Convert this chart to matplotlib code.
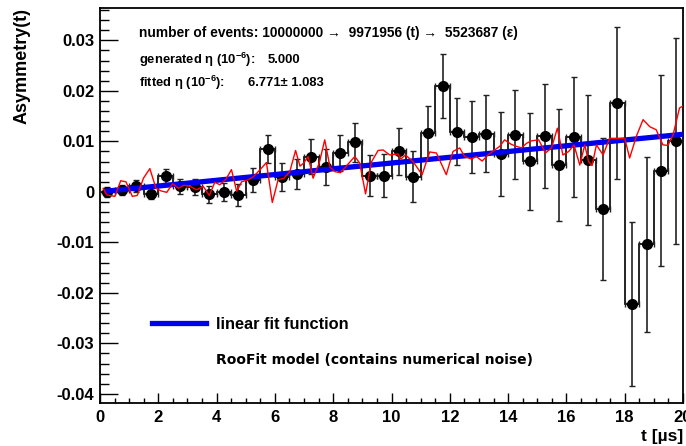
import matplotlib

matplotlib.use("Agg")
import matplotlib.pyplot as plt
import numpy as np
from matplotlib.lines import Line2D
from matplotlib.ticker import FixedLocator, MultipleLocator

plt.rcParams["font.family"] = ["Liberation Sans", "DejaVu Sans"]
plt.rcParams["font.weight"] = "bold"
plt.rcParams["mathtext.fontset"] = "custom"
plt.rcParams["mathtext.rm"] = "Liberation Sans:bold"
plt.rcParams["mathtext.it"] = "Liberation Sans:bold"
plt.rcParams["mathtext.bf"] = "Liberation Sans:bold"

# binned asymmetry (0.5 us bins)
bin_edges = np.arange(0, 20.01, 0.5)
asym = [-0.0001, 0.0003, 0.0012, -0.0004, 0.0032, 0.0011, 0.0010, -0.0005, -0.0001, -0.0006,
        0.0024, 0.0085, 0.0030, 0.0035, 0.0070, 0.0049, 0.0077, 0.0098, 0.0032, 0.0032,
        0.0080, 0.0030, 0.0117, 0.0209, 0.0119, 0.0108, 0.0115, 0.0075, 0.0113, 0.0061,
        0.0111, 0.0053, 0.0108, 0.0063, -0.0034, 0.0176, -0.0222, -0.0104, 0.0042, 0.0100]
asym_err = [0.0010, 0.0010, 0.0012, 0.0011, 0.0014, 0.0015, 0.0016, 0.0017, 0.0018, 0.0021,
            0.0024, 0.0027, 0.0028, 0.0030, 0.0034, 0.0035, 0.0036, 0.0038, 0.0040, 0.0043,
            0.0046, 0.0050, 0.0053, 0.0063, 0.0066, 0.0071, 0.0076, 0.0083, 0.0088, 0.0096,
            0.0103, 0.0111, 0.0119, 0.0129, 0.0140, 0.0151, 0.0162, 0.0174, 0.0189, 0.0204]

# RooFit model curve (noisy)
model_t = [0.11, 0.23, 0.51, 0.71, 0.89, 1.11, 1.28, 1.49, 1.71, 1.92, 2.09, 2.29, 2.49, 2.69,
           2.88, 3.09, 3.31, 3.54, 3.75, 3.94, 4.11, 4.32, 4.51, 4.69, 4.86, 5.09, 5.26, 5.46,
           5.71, 5.91, 6.11, 6.31, 6.51, 6.71, 6.86, 6.99, 7.14, 7.31, 7.52, 7.71, 7.89, 8.06,
           8.25, 8.51, 8.74, 8.91, 9.11, 9.31, 9.54, 9.71, 9.94, 10.23, 10.32, 10.48, 10.74,
           11.05, 11.31, 11.54, 11.88, 12.11, 12.34, 12.51, 12.74, 12.91, 13.11, 13.31, 13.54,
           13.71, 13.88, 14.11, 14.29, 14.46, 14.63, 14.80, 15.05, 15.28, 15.49, 15.69, 15.88,
           16.08, 16.26, 16.46, 16.63, 16.76, 16.88, 17.03, 17.26, 17.48, 17.77, 18.00, 18.17,
           18.40, 18.63, 18.86, 19.08, 19.31, 19.48, 19.66, 19.88, 20.0]
model_y = [0.0007, -0.0006, -0.0009, 0.0022, 0.0020, -0.0009, -0.0007, 0.0027, 0.0046, 0.0007,
           0.0002, -0.0001, 0.0016, 0.0007, 0.0013, 0.0011, 0.0004, 0.0011, -0.0007, 0.0019,
           0.0014, 0.0025, 0.0044, 0.0001, 0.0020, 0.0024, 0.0030, 0.0042, 0.0058, -0.0021,
           0.0024, 0.0027, 0.0040, 0.0082, 0.0051, 0.0057, 0.0070, 0.0027, 0.0057, 0.0103,
           0.0049, 0.0040, 0.0038, 0.0055, 0.0070, 0.0057, -0.0004, 0.0059, 0.0082, 0.0083,
           0.0073, 0.0075, 0.0065, 0.0073, 0.0060, 0.0034, 0.0079, 0.0077, 0.0034, 0.0080,
           0.0087, 0.0070, 0.0065, 0.0070, 0.0061, 0.0073, 0.0083, 0.0090, 0.0103, 0.0094,
           0.0090, 0.0087, 0.0096, 0.0101, 0.0103, 0.0077, 0.0087, 0.0126, 0.0073, 0.0080,
           0.0093, 0.0053, 0.0093, 0.0060, 0.0052, 0.0093, 0.0073, 0.0106, 0.0106, 0.0106,
           0.0067, 0.0110, 0.0143, 0.0129, 0.0123, 0.0093, 0.0092, 0.0113, 0.0166, 0.0170]

# linear fit end points
fit_t = [0.15, 20.0]
fit_y = [0.0001, 0.0114]

y_ticks = [-0.04, -0.03, -0.02, -0.01, 0.0, 0.01, 0.02, 0.03]
y_labels = ["-0.04", "-0.03", "-0.02", "-0.01", "0", "0.01", "0.02", "0.03"]

fig = plt.figure(figsize=(6.86, 4.46), dpi=100)
ax = fig.add_axes([100 / 686, 43 / 446, 583 / 686, 395 / 446])

centers = 0.5 * (bin_edges[:-1] + bin_edges[1:])
ax.stairs(asym, bin_edges, color="black", linewidth=1.2, baseline=None, zorder=2)
ax.errorbar(centers, asym, yerr=asym_err, xerr=0.25, fmt="o", color="black",
            ecolor="#222222", elinewidth=1.2, capsize=2, markersize=7, zorder=3)
ax.plot(fit_t, fit_y, color="#0000ee", linewidth=3.8, solid_capstyle="butt", zorder=4)
ax.plot(model_t, model_y, color="#ff0000", linewidth=1.0, zorder=5)

ax.set_xlim(0, 20)
ax.set_ylim(-0.0418, 0.0364)
ax.xaxis.set_major_locator(MultipleLocator(2))
ax.xaxis.set_minor_locator(MultipleLocator(0.5))
ax.yaxis.set_major_locator(FixedLocator(y_ticks))
ax.set_yticklabels(y_labels)
ax.yaxis.set_minor_locator(MultipleLocator(0.002))
ax.tick_params(axis="both", which="both", direction="in", top=False, right=False,
               width=1.0, labelsize=12)
ax.tick_params(axis="y", which="major", length=13, pad=4)
ax.tick_params(axis="y", which="minor", length=6.5)
ax.tick_params(axis="x", which="major", length=7.5, pad=5)
ax.tick_params(axis="x", which="minor", length=3.8)
for lab in ax.get_xticklabels() + ax.get_yticklabels():
    lab.set_fontweight("bold")
for sp in ax.spines.values():
    sp.set_linewidth(1.3)

fig.text(22 / 686, 1 - 66 / 446, "Asymmetry(t)", rotation=90, ha="center", va="center",
         fontsize=13, fontweight="bold")
fig.text(683 / 686, 1 - 437 / 446, "t [\u00b5s]", ha="right", va="center",
         fontsize=12.5, fontweight="bold")

txt = dict(fontsize=9.9, fontweight="bold", va="center", transform=ax.transAxes)
ax.text(39 / 583, 1 - 25 / 395,
        "number of events: 10000000 \u2192  9971956 (t) \u2192  5523687 (\u03b5)", **txt)
txt["fontsize"] = 9.4
ax.text(39 / 583, 1 - 52 / 395, r"generated η (10$^{-6}$):", **txt)
ax.text(168 / 583, 1 - 52 / 395, "5.000", **txt)
ax.text(39 / 583, 1 - 75 / 395, r"fitted η (10$^{-6}$):", **txt)
ax.text(148 / 583, 1 - 75 / 395, "6.771\u00b1 1.083", **txt)

handles = [Line2D([], [], color="#0000ee", linewidth=3.8),
           Line2D([], [], color="none")]
leg = ax.legend(handles, ["linear fit function", "RooFit model (contains numerical noise)"],
                loc="upper left", bbox_to_anchor=(52 / 583, 1 - 309 / 395), frameon=False,
                handlelength=3.3, handletextpad=0.6, labelspacing=1.25, borderpad=0,
                borderaxespad=0, prop={"size": 11.8, "weight": "bold"})
leg.get_texts()[1].set_fontsize(10)
leg.get_texts()[1].set_fontfamily("DejaVu Sans")

fig.savefig("out.png", dpi=100)
